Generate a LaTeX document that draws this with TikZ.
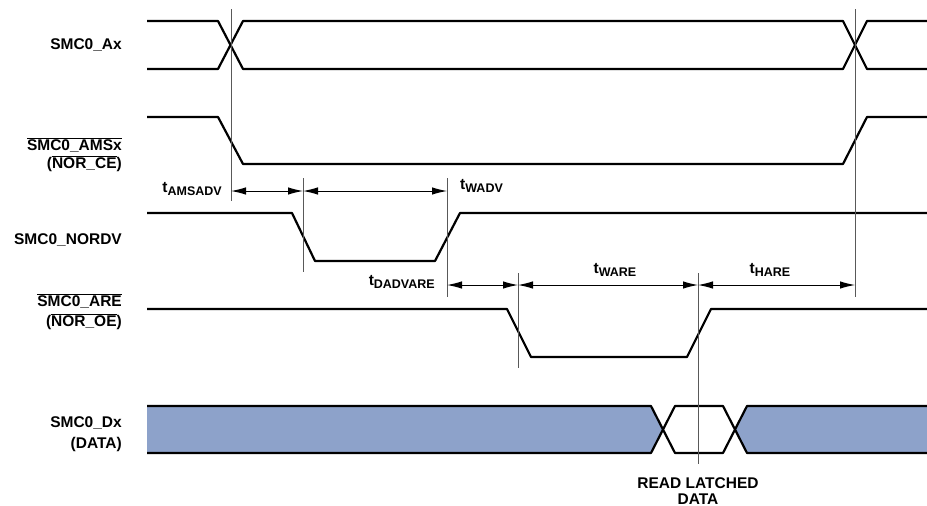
\documentclass[tikz,border=0pt]{standalone}
\usepackage{fontspec}
\setmainfont{Liberation Sans}
\usetikzlibrary{arrows.meta}
\definecolor{dataxanh}{RGB}{141,162,202}
\newcommand{\tsub}[1]{t\raisebox{-0.35ex}{\fontsize{12.5}{12.5}\selectfont #1}}
\newcommand{\ovl}[1]{$\overline{\mbox{#1}}$}
\begin{document}
\begin{tikzpicture}[x=1pt, y=-1pt, >={Latex[length=15pt,width=7.5pt]}, line join=round,
 font=\bfseries\fontsize{15.5}{18}\selectfont, inner sep=0pt,
 song/.style={line width=2.2pt},
 moc/.style={line width=1pt, black!65},
 mui/.style={<->, line width=1pt}]
\useasboundingbox (0,0) rectangle (927,506);
% Ten cac tin hieu
\node[anchor=east] (lblAx) at (122,45) {SMC0\_Ax};
\node[anchor=east, align=right] (lblAMS) at (122,155) {\ovl{SMC0\_AMSx}\\(\ovl{NOR\_CE})};
\node[anchor=east] (lblNORDV) at (122,240) {SMC0\_NORDV};
\node[anchor=east, align=right, font=\bfseries\fontsize{15.5}{20}\selectfont] (lblARE) at (122,312) {\ovl{SMC0\_ARE}\\(\ovl{NOR\_OE})};
\node[anchor=east, align=right, font=\bfseries\fontsize{15.5}{21}\selectfont] (lblDx) at (122,434) {SMC0\_Dx\\(DATA)};
% Ve cac dang song
\draw[song] (147,21)--(218,21)--(243,69)--(843,69)--(867,21)--(927,21);
\draw[song] (147,69)--(218,69)--(243,21)--(843,21)--(867,69)--(927,69);
\draw[song] (147,117)--(218,117)--(243,164)--(843,164)--(867,117)--(927,117);
\draw[song] (147,213)--(292,213)--(315,261)--(435,261)--(460,213)--(927,213);
\draw[song] (147,309)--(507,309)--(531,357)--(687,357)--(711,309)--(927,309);
% Vung du lieu
\fill[dataxanh] (147,406)--(651,406)--(663,429.5)--(651,453)--(147,453)--cycle;
\fill[dataxanh] (927,406)--(747,406)--(735,429.5)--(747,453)--(927,453)--cycle;
\draw[song] (147,406)--(651,406)--(675,453)--(723,453)--(747,406)--(927,406);
\draw[song] (147,453)--(651,453)--(675,406)--(723,406)--(747,453)--(927,453);
% Cac vach moc thoi gian
\foreach \x/\a/\b in {231/9/201, 303/178/272, 447/178/297, 518/273/368, 698/273/464, 855/9/297}
\draw[moc] (\x,\a)--(\x,\b);
\coordinate (a1) at (231,191);
\coordinate (a2) at (303,191);
\coordinate (a3) at (447,191);
\coordinate (b1) at (447,285);
\coordinate (b2) at (518,285);
\coordinate (b3) at (698,285);
\coordinate (b4) at (855,285);
% Mui ten khoang thoi gian
\draw[mui] (a1)--(a2);
\draw[mui] (a2)--(a3);
\draw[mui] (b1)--(b2);
\draw[mui] (b2)--(b3);
\draw[mui] (b3)--(b4);
\node[anchor=east] (tAMSADV) at (222,189) {\tsub{AMSADV}};
\node[anchor=west] (tWADV) at (460,186) {\tsub{WADV}};
\node[anchor=east] (tDADVARE) at (435,282) {\tsub{DADVARE}};
\node (tWARE) at (615,270) {\tsub{WARE}};
\node (tHARE) at (770,270) {\tsub{HARE}};
\node[align=center, font=\bfseries\fontsize{15.5}{16}\selectfont] (lblRead) at (698,491) {READ LATCHED\\DATA};
\end{tikzpicture}
\end{document}
